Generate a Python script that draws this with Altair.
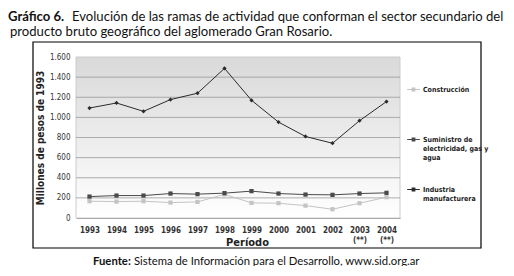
import altair as alt
import pandas as pd

years = ["1993", "1994", "1995", "1996", "1997", "1998", "1999", "2000", "2001", "2002", "2003", "2004"]
construccion = [167, 163, 167, 153, 160, 235, 150, 147, 123, 87, 147, 207]
suministro = [213, 223, 223, 243, 237, 247, 267, 243, 233, 230, 243, 250]
industria = [1093, 1143, 1060, 1177, 1240, 1487, 1170, 953, 810, 743, 967, 1157]

series = ["Construcción", "Suministro de electricidad, gas y agua", "Industria manufacturera"]
colors = ["#c4c4c4", "#4a4a4a", "#2b2b2b"]
shapes = ["square", "square", "diamond"]
grid_values = [200, 400, 600, 800, 1000, 1200, 1400]
y_ticks = [0, 200, 400, 600, 800, 1000, 1200, 1400, 1600]

rows = []
for vals, name in zip([construccion, suministro, industria], series):
    for yr, v in zip(years, vals):
        rows.append({"Año": yr, "Serie": name, "Forma": name, "Valor": v})
df = pd.DataFrame(rows)

# data-derived (alphabetical) domain for the unlabeled stroke/shape scales
order = sorted(range(len(series)), key=lambda i: series[i])
colors_sorted = [colors[i] for i in order]
shapes_sorted = [shapes[i] for i in order]

W, H = 324, 161
NARROW = "Liberation Sans Narrow, DejaVu Sans Condensed, sans-serif"
TXT = "Lato, Open Sans, sans-serif"

y_scale = alt.Scale(domain=[0, 1600], nice=False)
y_axis = alt.Axis(
    title="Millones de pesos de 1993",
    titleFont=NARROW, titleFontSize=10, titleFontWeight="bold", titleColor="#222",
    titlePadding=4,
    values=y_ticks, grid=False, ticks=False, domain=False,
    labelFont=NARROW, labelFontSize=8, labelColor="#333", labelPadding=6,
    labelExpr="replace(format(datum.value, ','), ',', '.')",
)

x_enc = alt.X(
    "Año:O",
    sort=years,
    scale=alt.Scale(type="point", padding=0.5),
    axis=alt.Axis(
        title="Período",
        titleFont=NARROW, titleFontSize=11, titleFontWeight="bold", titleColor="#222",
        titleX=171, titleY=24, titleBaseline="middle", titleAlign="center",
        labelFont=NARROW, labelFontSize=8, labelFontWeight="bold", labelColor="#333",
        labelAngle=0, labelPadding=8, ticks=False, domain=True, domainColor="#888",
        labelExpr="datum.value == '2003' || datum.value == '2004' ? [datum.value, '(**)'] : datum.value",
    ),
)
y_enc = alt.Y("Valor:Q", scale=y_scale, axis=y_axis)

one = pd.DataFrame({"k": [0]})

bg = alt.Chart(one).mark_rect(
    fill=alt.Gradient(
        gradient="linear",
        stops=[alt.GradientStop(color="#d9d9d9", offset=0), alt.GradientStop(color="#ffffff", offset=1)],
        x1=0, x2=0, y1=0, y2=1,
    ),
    stroke="#cccccc", strokeWidth=1,
).encode(x=alt.value(0), x2=alt.value(W), y=alt.value(0), y2=alt.value(H))

grid = alt.Chart(pd.DataFrame({"Valor": grid_values})).mark_rule(color="#999999", strokeWidth=0.8).encode(
    y=alt.Y("Valor:Q", scale=y_scale, axis=y_axis)
)

lines = alt.Chart(df).mark_line(strokeWidth=1).encode(
    x=x_enc, y=y_enc,
    stroke=alt.Stroke("Forma:N", scale=alt.Scale(range=colors_sorted), legend=None),
)

legend_label_expr = (
    "datum.label == 'Suministro de electricidad, gas y agua' ? ['Suministro de', 'electricidad, gas y', 'agua'] : "
    "datum.label == 'Industria manufacturera' ? ['Industria', 'manufacturera', ' '] : [datum.label, ' ', ' ']"
)

points = alt.Chart(df).mark_point(filled=True, size=18, opacity=1, strokeWidth=0).encode(
    x=x_enc, y=y_enc,
    shape=alt.Shape("Forma:N", scale=alt.Scale(range=shapes_sorted), legend=None),
    fill=alt.Fill(
        "Serie:N",
        scale=alt.Scale(domain=series, range=colors),
        legend=alt.Legend(
            title=None, orient="none", legendX=331, legendY=26,
            symbolType="M-1,-0.08H1V0.08H-1Z M-0.3,-0.3H0.3V0.3H-0.3Z",
            symbolSize=160, symbolStrokeWidth=0,
            labelFont=NARROW, labelFontSize=7, labelFontWeight="bold", labelColor="#222",
            labelLimit=200, rowPadding=22, labelOffset=3,
            labelExpr=legend_label_expr,
        ),
    ),
)

box = alt.Chart(one).mark_rect(fill="transparent", stroke="#000000", strokeWidth=1.2).encode(
    x=alt.value(-43), x2=alt.value(405), y=alt.value(-15), y2=alt.value(191)
)

def txt(s, x, y, size, weight="normal", font=TXT, color="#111"):
    return alt.Chart(pd.DataFrame({"t": [s]})).mark_text(
        align="left", baseline="alphabetic", fontSize=size, fontWeight=weight, font=font, color=color
    ).encode(text="t:N", x=alt.value(x), y=alt.value(y))

t1a = txt("Gráfico 6.", -68, -36, 13.1, "bold")
t1b = txt("Evolución de las ramas de actividad que conforman el sector secundario del", -4, -36, 13.1)
t2 = txt("producto bruto geográfico del aglomerado Gran Rosario.", -66, -21, 13.1)
s1 = txt("Fuente:", 17, 208, 11.3, "bold")
s2 = txt("Sistema de Información para el Desarrollo, www.sid.org.ar", 58, 208, 11.3)

chart = alt.layer(bg, grid, lines, points, box, t1a, t1b, t2, s1, s2).properties(
    width=W, height=H,
    autosize=alt.AutoSizeParams(type="none"),
    padding={"left": 68, "top": 49, "right": 104, "bottom": 48},
).configure_view(stroke=None).resolve_scale(shape="independent")

chart.save("out.html", embed_options={"renderer": "svg", "actions": False})
